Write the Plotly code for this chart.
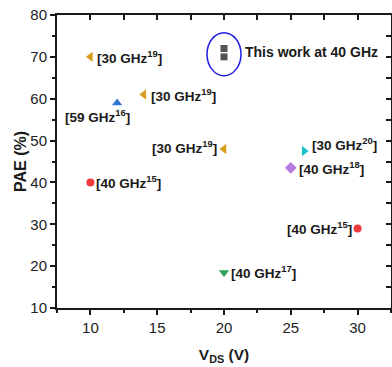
import plotly.graph_objects as go

NEGRO = "#1A1A1A"
FUENTE = "Liberation Sans, Arial, sans-serif"

# datos de referencia (otros trabajos)
vds = [10, 14, 12, 20, 26, 25, 10, 30, 20]
pae = [70, 61, 59, 48, 47.5, 43.5, 40, 29, 18.5]
frecuencia = ["30", "30", "59", "30", "30", "40", "40", "40", "40"]
referencia = ["19", "19", "16", "19", "20", "18", "15", "15", "17"]

# este trabajo
vds_este = [20, 20]
pae_este = [72, 70]
texto_este = "This work at 40 GHz"

# estilo de cada marcador
simbolos = ["triangle-left", "triangle-left", "triangle-up", "triangle-left",
            "triangle-right", "diamond", "circle", "circle", "triangle-down"]
colores = ["#D69E1C", "#D69E1C", "#2F78D8", "#D69E1C",
           "#1CC2CC", "#B47CDC", "#EF3B3B", "#EF3B3B", "#2FA05C"]
tamanos = [9, 9, 9, 9, 9, 9, 8, 8, 9]

# posición de cada etiqueta respecto al marcador: (xanchor, xshift, yshift)
pos_etiqueta = [("left", 5, 0), ("left", 5, 0), ("center", -20, -13),
                ("right", -5, 2), ("left", 6, 7), ("left", 6, 0),
                ("left", 4, 0), ("right", -4, 0), ("left", 5, 0)]

fig = go.Figure()
fig.add_trace(go.Scatter(
    x=vds, y=pae, mode="markers",
    marker=dict(symbol=simbolos, color=colores, size=tamanos, opacity=1,
                line=dict(width=0)),
    hoverinfo="skip", showlegend=False,
))
fig.add_trace(go.Scatter(
    x=vds_este, y=pae_este, mode="markers",
    marker=dict(symbol="square", color="#555555", size=7, opacity=1,
                line=dict(width=0)),
    hoverinfo="skip", showlegend=False,
))
# ejes espejo con marcas hacia adentro
fig.add_trace(go.Scatter(x=[], y=[], xaxis="x2", yaxis="y2", showlegend=False))

for x, y, f, r, (anc, dx, dy) in zip(vds, pae, frecuencia, referencia, pos_etiqueta):
    fig.add_annotation(
        x=x, y=y, text=f"[{f} GHz<sup>{r}</sup>]", showarrow=False,
        xanchor=anc, yanchor="middle", xshift=dx, yshift=dy,
        font=dict(size=13.5, color=NEGRO, family=FUENTE, weight="bold"),
    )

x_c = sum(vds_este) / len(vds_este)
y_c = sum(pae_este) / len(pae_este)
fig.add_annotation(
    x=x_c, y=y_c, text=texto_este, showarrow=False,
    xanchor="left", yanchor="middle", xshift=19, yshift=1,
    font=dict(size=14, color=NEGRO, family=FUENTE, weight="bold"),
)
fig.add_shape(
    type="circle", xref="x", yref="y",
    xsizemode="pixel", ysizemode="pixel", xanchor=x_c, yanchor=y_c,
    x0=-17, x1=17, y0=-23, y1=20,
    line=dict(color="#1F1FE6", width=1.5),
)

eje = dict(
    showgrid=False, zeroline=False, showline=True, automargin=False,
    linecolor=NEGRO, linewidth=2, ticks="outside", ticklen=5,
    tickwidth=2, tickcolor=NEGRO,
    tickfont=dict(size=15, color="#222222", family=FUENTE),
)

fig.update_layout(
    width=392, height=367,
    plot_bgcolor="white", paper_bgcolor="white",
    margin=dict(l=57, r=1, t=15, b=59),
    hovermode=False,
    xaxis=dict(
        **eje, range=[7.5, 32.5], dtick=5, tick0=0,
        minor=dict(dtick=2.5, ticks="outside", ticklen=3, tickwidth=2, tickcolor=NEGRO),
        title=dict(text="<b>V<sub>DS</sub> (V)</b>", standoff=14,
                   font=dict(size=15.5, color=NEGRO, family=FUENTE)),
    ),
    yaxis=dict(
        **eje, range=[10, 80], dtick=10,
        minor=dict(dtick=5, ticks="outside", ticklen=3, tickwidth=2, tickcolor=NEGRO),
        title=dict(text="<b>PAE (%)</b>", standoff=0,
                   font=dict(size=16, color=NEGRO, family=FUENTE)),
    ),
    xaxis2=dict(
        overlaying="x", side="top", matches="x", range=[7.5, 32.5], automargin=False,
        showgrid=False, zeroline=False, showline=True, linecolor=NEGRO, linewidth=2,
        ticks="inside", ticklen=5, tickwidth=2, tickcolor=NEGRO,
        dtick=2.5, tick0=0, showticklabels=False,
    ),
    yaxis2=dict(
        overlaying="y", side="right", matches="y", range=[10, 80], automargin=False,
        showgrid=False, zeroline=False, showline=True, linecolor=NEGRO, linewidth=2,
        ticks="inside", ticklen=5, tickwidth=2, tickcolor=NEGRO,
        dtick=5, showticklabels=False,
    ),
)

fig.write_html("out.html", config={"displayModeBar": False},
               post_script="document.body.style.margin='0';")
